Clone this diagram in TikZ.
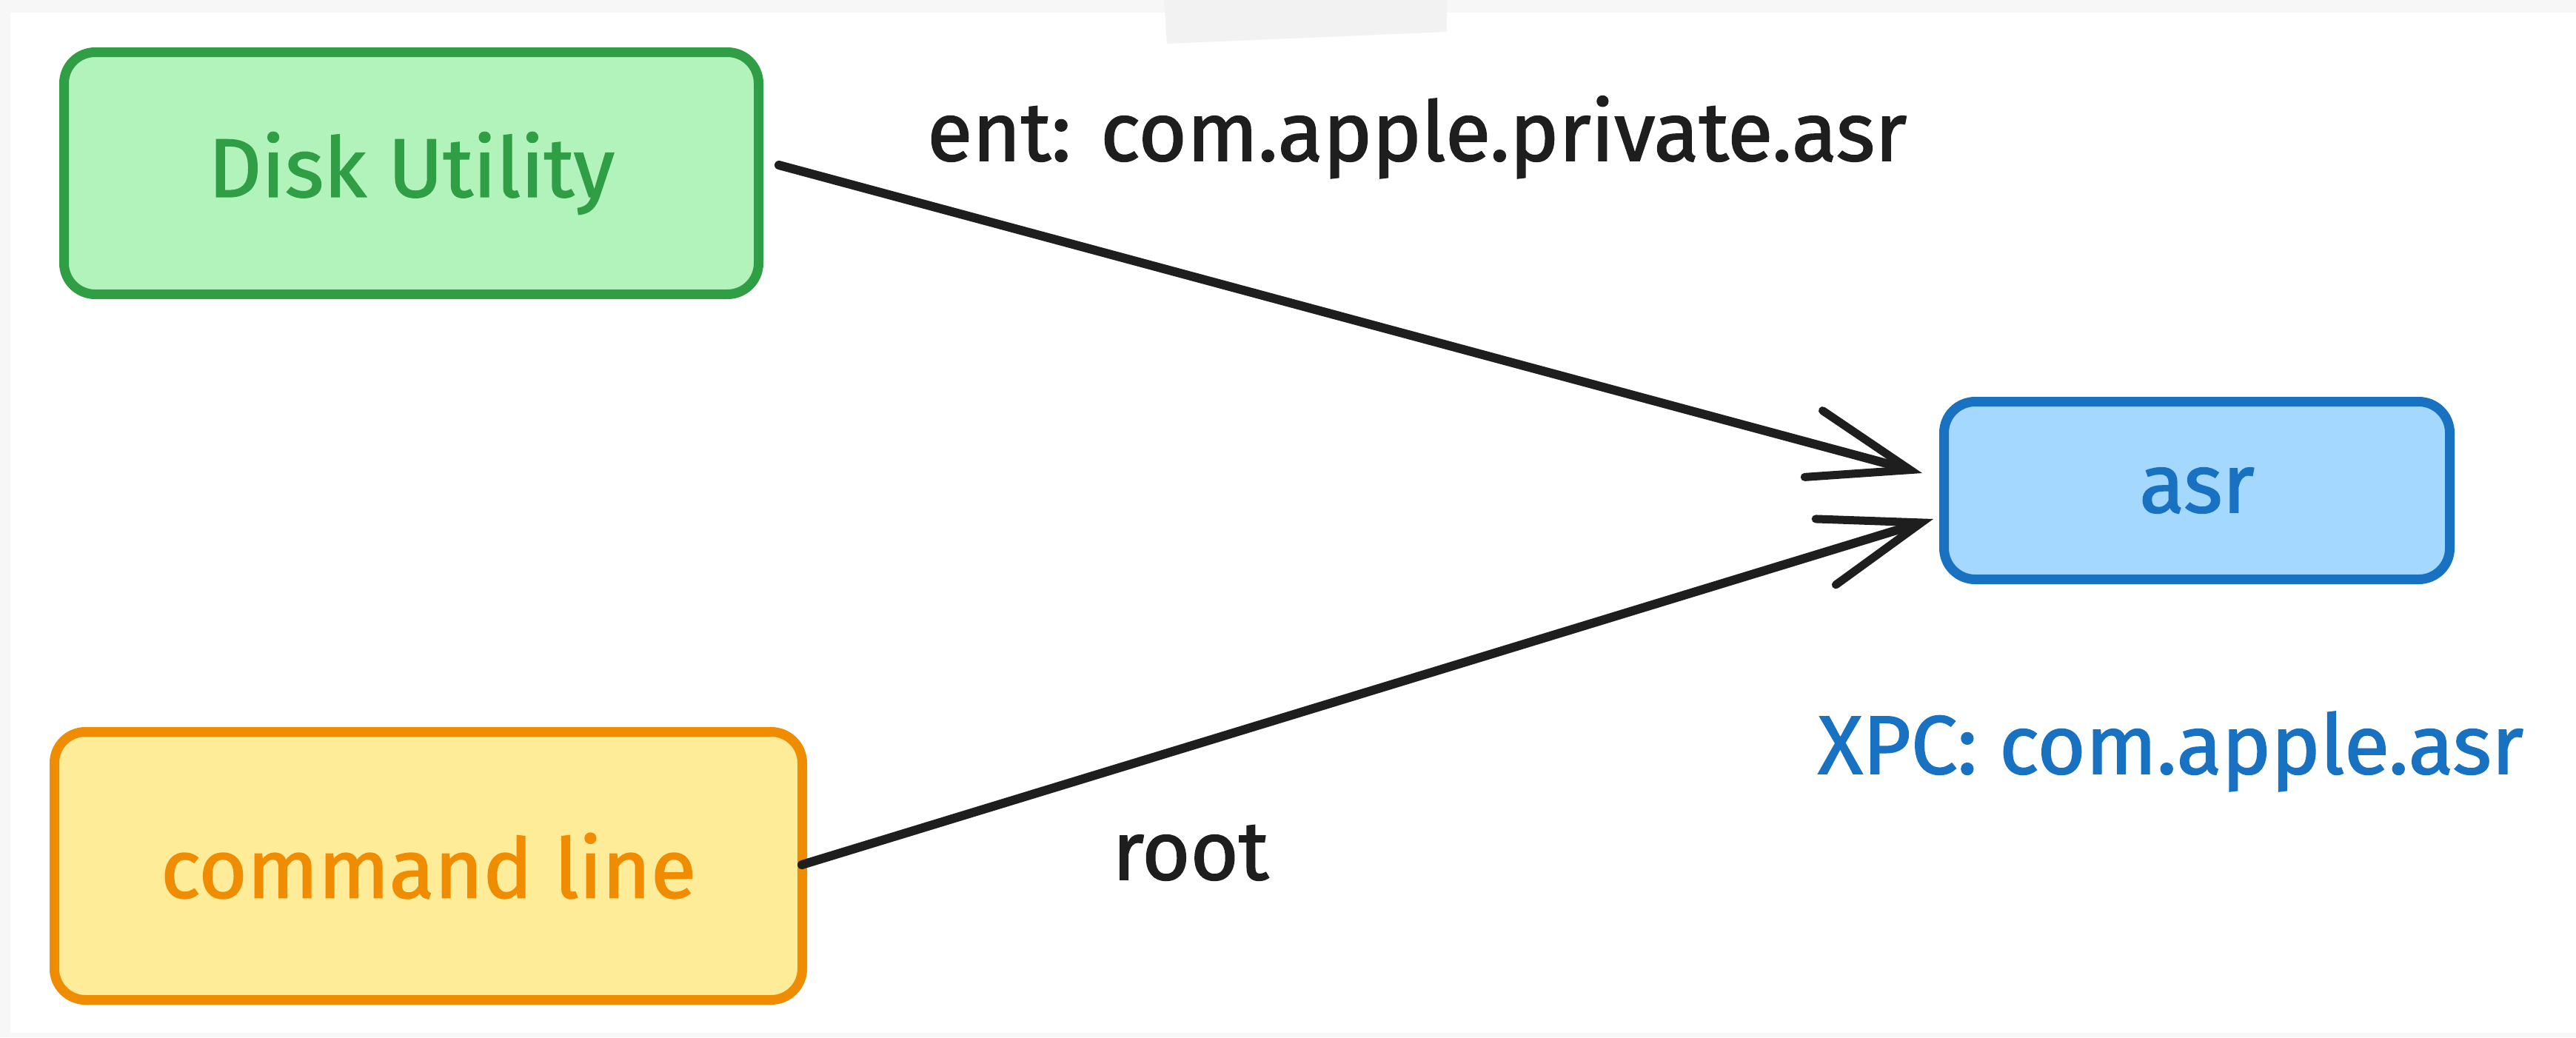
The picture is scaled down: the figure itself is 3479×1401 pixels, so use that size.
\documentclass[tikz,border=0pt]{standalone}
\usepackage{fontspec}
\setmainfont{Fira Sans}[FakeBold=1.5]
\usetikzlibrary{arrows.meta}
\definecolor{bgc}{HTML}{F7F7F7}
\definecolor{tapec}{HTML}{F2F2F2}
\definecolor{dufill}{HTML}{B2F2BB}
\definecolor{dudraw}{HTML}{2F9E44}
\definecolor{clfill}{HTML}{FFEC99}
\definecolor{cldraw}{HTML}{F08C00}
\definecolor{asrfill}{HTML}{A5D8FF}
\definecolor{asrdraw}{HTML}{1971C2}
\definecolor{ink}{HTML}{1E1E1E}
\begin{document}
\begin{tikzpicture}[x=1pt,y=-1pt,
  box/.style={draw, rounded corners=42pt, line width=13pt, inner sep=0pt,
    font=\fontsize{112}{134}\selectfont},
  lbl/.style={inner sep=0pt, anchor=base west, font=\fontsize{112}{134}\selectfont},
  conn/.style={draw=ink, line width=12pt, line cap=round,
    -{Straight Barb[length=135pt, width=93pt, line width=11pt, line cap=round]}}]
\useasboundingbox (0,0) rectangle (3479,1401);
\fill[bgc] (0,0) rectangle (3479,1401);
\fill[white] (14,17) rectangle (3479,1395);
\fill[tapec] (1572,0) -- (1954,0) -- (1954,43) -- (1576,59) -- cycle;

\node[box, fill=dufill, draw=dudraw, text=dudraw, minimum width=938pt, minimum height=327pt] (du) at (555.5,234) {Disk Utility};
\node[box, fill=clfill, draw=cldraw, text=cldraw, minimum width=1010pt, minimum height=362pt] (cl) at (578.5,1169.5) {command line};
\node[box, fill=asrfill, draw=asrdraw, text=asrdraw, minimum width=683pt, minimum height=240pt] (asr) at (2967,662.5) {asr};

\node[lbl, text=ink] (ent) at (1252,217) {ent: com.apple.private.asr};
\node[lbl, text=ink] (root) at (1502,1188) {root};
\node[lbl, text=asrdraw] (xpc) at (2455,1045) {XPC: com.apple.asr};

\draw[conn] ([shift={(21,-11)}]du.east) -- ([shift={(-23,-23.5)}]asr.west);
\draw[conn] ([shift={(-7,-1.5)}]cl.east) -- ([shift={(-8,38.5)}]asr.west);
\end{tikzpicture}
\end{document}
